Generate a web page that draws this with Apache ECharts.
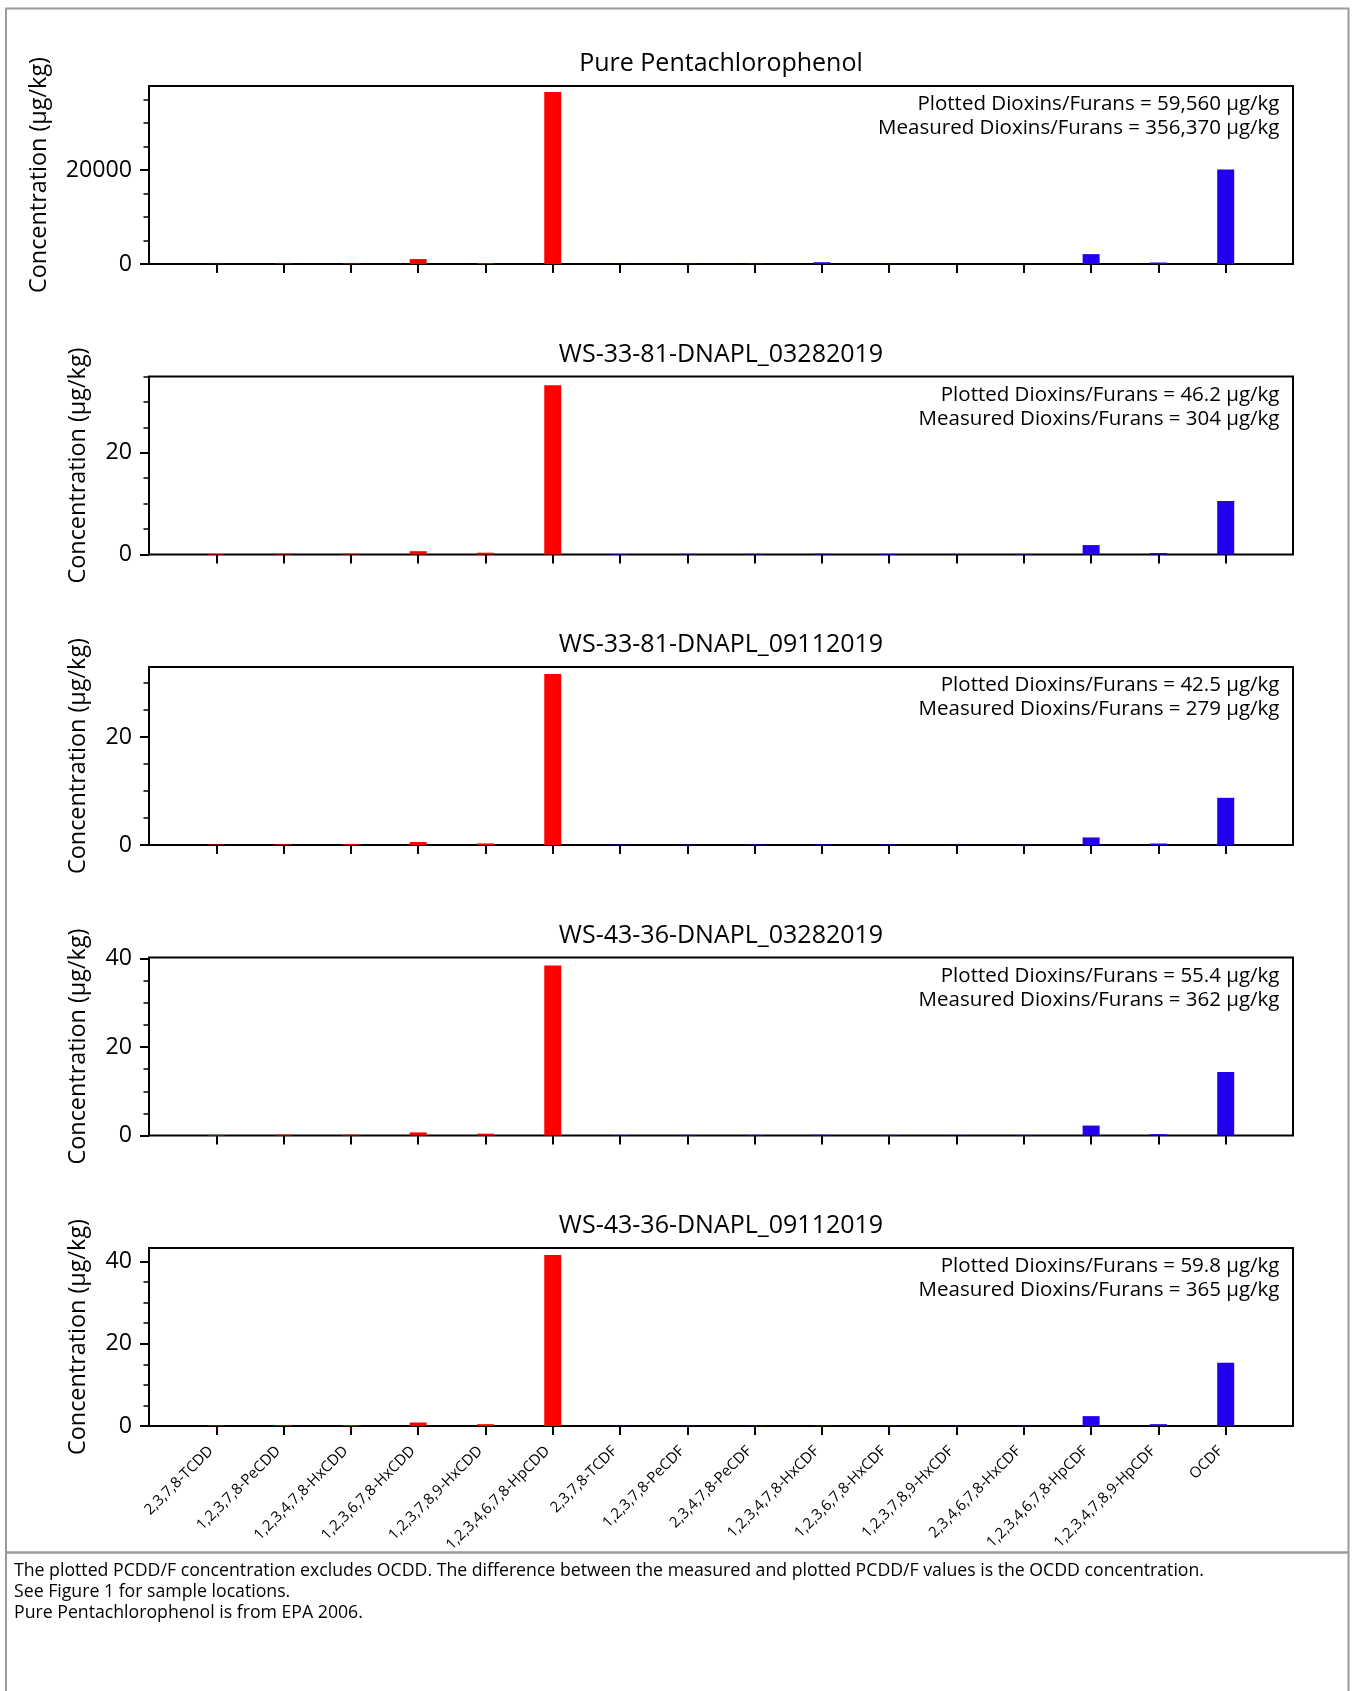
<!DOCTYPE html>
<html>
<head>
<meta charset="utf-8">
<script src="https://cdn.jsdelivr.net/npm/echarts@6/dist/echarts.min.js"></script>
<style>
  html, body { margin: 0; padding: 0; background: #fff; }
  #chart { width: 1355px; height: 1691px; }
</style>
</head>
<body>
<div id="chart"></div>
<script>
// ---------- DATA ----------
const categories = [
  '2,3,7,8-TCDD', '1,2,3,7,8-PeCDD', '1,2,3,4,7,8-HxCDD', '1,2,3,6,7,8-HxCDD',
  '1,2,3,7,8,9-HxCDD', '1,2,3,4,6,7,8-HpCDD', '2,3,7,8-TCDF', '1,2,3,7,8-PeCDF',
  '2,3,4,7,8-PeCDF', '1,2,3,4,7,8-HxCDF', '1,2,3,6,7,8-HxCDF', '1,2,3,7,8,9-HxCDF',
  '2,3,4,6,7,8-HxCDF', '1,2,3,4,6,7,8-HpCDF', '1,2,3,4,7,8,9-HpCDF', 'OCDF'
];
const dioxinCount = 6; // first six categories are dioxins (red), rest furans (blue)

const panelTitles = [
  'Pure Pentachlorophenol',
  'WS-33-81-DNAPL_03282019',
  'WS-33-81-DNAPL_09112019',
  'WS-43-36-DNAPL_03282019',
  'WS-43-36-DNAPL_09112019'
];

const purePCP      = [60, 100, 110, 1050, 150, 36600, 60, 100, 120, 380, 80, 30, 60, 2100, 320, 20100];
const ws3381_0328  = [0.10, 0.15, 0.15, 0.65, 0.35, 33.3, 0.10, 0.12, 0.12, 0.15, 0.12, 0.05, 0.10, 1.85, 0.30, 10.5];
const ws3381_0911  = [0.08, 0.15, 0.15, 0.55, 0.30, 31.7, 0.08, 0.10, 0.10, 0.12, 0.10, 0.05, 0.08, 1.40, 0.28, 8.75];
const ws4336_0328  = [0.12, 0.15, 0.15, 0.70, 0.42, 38.5, 0.10, 0.12, 0.12, 0.15, 0.12, 0.05, 0.10, 2.25, 0.30, 14.4];
const ws4336_0911  = [0.12, 0.18, 0.18, 0.85, 0.45, 41.6, 0.10, 0.12, 0.12, 0.15, 0.12, 0.05, 0.10, 2.40, 0.45, 15.4];
const panelValues = [purePCP, ws3381_0328, ws3381_0911, ws4336_0328, ws4336_0911];

const yAxisMax = [37900, 35.0, 33.0, 40.3, 43.3];
const plottedText  = ['59,560', '46.2', '42.5', '55.4', '59.8'];
const measuredText = ['356,370', '304', '279', '362', '365'];
const majorStep = [20000, 20, 20, 20, 20];
const minorStep = [5000, 5, 5, 5, 5];

const yAxisTitle = 'Concentration (µg/kg)';
const footerLines = [
  'The plotted PCDD/F concentration excludes OCDD. The difference between the measured and plotted PCDD/F values is the OCDD concentration.',
  'See Figure 1 for sample locations.',
  'Pure Pentachlorophenol is from EPA 2006.'
];

// ---------- STYLE / LAYOUT ----------
const FONT = '"Open Sans", "Noto Sans", sans-serif';
const RED = '#ff0000';
const BLUE = '#2200ee';
const gridLeft = 149, gridWidth = 1144, gridHeight = 178;
const tops = [86, 376.5, 667, 957.5, 1248];
const yTitleX = [39, 78, 78, 78, 78];

const chart = echarts.init(document.getElementById('chart'), null, { renderer: 'canvas' });

const grids = [], xAxes = [], yAxes = [], series = [], graphics = [];
const xTicks = categories.map((_, i) => i);

function multiples(step, max) {
  const out = [];
  for (let v = 0; v <= max + 1e-9; v += step) out.push(v);
  return out;
}

panelValues.forEach((vals, i) => {
  const ymax = yAxisMax[i];
  grids.push({
    left: gridLeft, width: gridWidth, top: tops[i], height: gridHeight,
    show: true, borderColor: '#000', borderWidth: 2, backgroundColor: 'transparent'
  });
  xAxes.push({
    type: 'value', gridIndex: i, min: -1, max: 16,
    splitLine: { show: false },
    axisLine: { show: false, onZero: false },
    axisTick: { show: true, customValues: xTicks, length: 9, lineStyle: { color: '#000', width: 2 } },
    axisLabel: {
      show: i === panelValues.length - 1, customValues: xTicks,
      formatter: v => categories[v] || '', rotate: 45, fontSize: 15,
      fontFamily: FONT, color: '#000', margin: 28, verticalAlign: 'bottom', align: 'right'
    }
  });
  const majors = multiples(majorStep[i], ymax);
  const minors = multiples(minorStep[i], ymax);
  yAxes.push({
    type: 'value', gridIndex: i, min: 0, max: ymax, position: 'left',
    splitLine: { show: false },
    axisLine: { show: false, onZero: false },
    axisTick: { show: true, customValues: majors, length: 9, lineStyle: { color: '#000', width: 2 } },
    axisLabel: { customValues: majors, formatter: v => String(v), fontSize: 23.2, fontFamily: FONT, color: '#000', margin: 17 }
  });
  yAxes.push({
    type: 'value', gridIndex: i, min: 0, max: ymax, position: 'left', offset: 0,
    splitLine: { show: false },
    axisLine: { show: false, onZero: false },
    axisTick: { show: true, customValues: minors, length: 5.5, lineStyle: { color: '#000', width: 1.5 } },
    axisLabel: { show: false }
  });
  series.push({
    type: 'bar', xAxisIndex: i, yAxisIndex: 2 * i,
    data: vals.map((v, k) => [k, v]),
    barWidth: 17,
    itemStyle: { color: p => (p.value[0] < dioxinCount ? RED : BLUE) },
    animation: false
  });

  // panel title
  graphics.push({
    type: 'text', x: gridLeft + gridWidth / 2, y: tops[i] - 22,
    style: { text: panelTitles[i], font: '25px ' + FONT, fill: '#000', align: 'center', verticalAlign: 'middle', textAlign: 'center', textVerticalAlign: 'middle' }
  });
  // annotation
  graphics.push({
    type: 'text', x: gridLeft + gridWidth - 13.5, y: tops[i] + 18.5,
    style: { text: 'Plotted Dioxins/Furans = ' + plottedText[i] + ' µg/kg', font: '20.5px ' + FONT, fill: '#000', align: 'right', verticalAlign: 'middle', textAlign: 'right', textVerticalAlign: 'middle' }
  });
  graphics.push({
    type: 'text', x: gridLeft + gridWidth - 13.5, y: tops[i] + 42.5,
    style: { text: 'Measured Dioxins/Furans = ' + measuredText[i] + ' µg/kg', font: '20.5px ' + FONT, fill: '#000', align: 'right', verticalAlign: 'middle', textAlign: 'right', textVerticalAlign: 'middle' }
  });
  // y axis title
  graphics.push({
    type: 'text', x: yTitleX[i], y: tops[i] + gridHeight / 2, rotation: Math.PI / 2,
    style: { text: yAxisTitle, font: '23.4px ' + FONT, fill: '#000', align: 'center', verticalAlign: 'middle', textAlign: 'center', textVerticalAlign: 'middle' }
  });
});

// outer frame and footer
graphics.unshift({
  type: 'rect', shape: { x: 6, y: 8.5, width: 1342.5, height: 1700 },
  style: { fill: 'none', stroke: '#9a9a9a', lineWidth: 2 }, z: -10
});
graphics.push({
  type: 'line', shape: { x1: 6, y1: 1552.5, x2: 1348.5, y2: 1552.5 },
  style: { stroke: '#9a9a9a', lineWidth: 2.5 }
});
footerLines.forEach((t, k) => {
  graphics.push({
    type: 'text', x: 14, y: 1571 + k * 21,
    style: { text: t, font: '17.7px ' + FONT, fill: '#000', align: 'left', verticalAlign: 'middle', textAlign: 'left', textVerticalAlign: 'middle' }
  });
});

chart.setOption({
  backgroundColor: '#fff',
  animation: false,
  grid: grids,
  xAxis: xAxes,
  yAxis: yAxes,
  series: series,
  graphic: { elements: graphics }
});
</script>
</body>
</html>
